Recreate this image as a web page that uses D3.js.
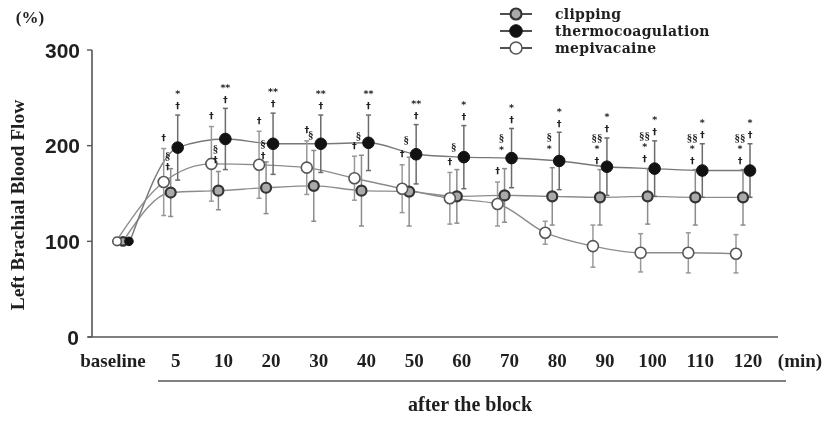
<!DOCTYPE html>
<html>
<head>
<meta charset="utf-8">
<script src="https://cdn.jsdelivr.net/npm/d3@7/dist/d3.min.js"></script>
<style>
html,body{margin:0;padding:0;background:#fff;}
svg{display:block;}
.gray{opacity:0.995;will-change:transform;}
</style>
</head>
<body>
<svg id="chart" width="832" height="426"></svg>
<script>
// ---------- data ----------
const categories = ["baseline","5","10","20","30","40","50","60","70","80","90","100","110","120"];
const yTicks = [0,100,200,300];

const clipping   = [100,151,153,156,158,153,152,147,148,147,146,147,146,146];
const clippingSD = [0,25,20,27,37,37,36,28,28,30,29,29,29,29];
const thermo     = [100,198,207,202,202,203,191,188,187,184,178,176,174,174];
const thermoSD   = [0,34,32,32,30,29,31,33,31,30,30,29,28,28];
const mepi       = [100,162,181,180,177,166,155,145,139,109,95,88,88,87];
const mepiSD     = [0,35,39,35,28,23,25,27,23,12,22,20,21,20];

// significance marks (listed bottom to top)
const thermoMarks = [[],["†","*"],["†","**"],["†","**"],["†","**"],["†","**"],["†","**"],["†","*"],["†","*"],["†","*"],["†","*"],["†","*"],["†","*"],["†","*"]];
const mepiMarks   = [[],["†"],["†"],["†"],["†"],["†"],["†"],["†"],["†"],[],[],[],[],[]];
const clipMarks   = [[],["†","§"],["†","§"],["†","§"],["§"],["§"],["§"],["§"],["*","§"],["*","§"],["†","*","§§"],["†","*","§§"],["†","*","§§"],["†","*","§§"]];
const clipMarkLevel = [0,178,185,190,212,211,207,200,196,197,184,186,184,184];

const seriesNames = ["clipping","thermocoagulation","mepivacaine"];

// ---------- drawing ----------
const svg = d3.select("#chart");
const root = svg.append("g").attr("class","gray");
const x = d3.scalePoint().domain(categories).range([123, 743]);
const y = d3.scaleLinear().domain([0,300]).range([337, 50]);
const serifB = "'Liberation Serif', 'DejaVu Serif', serif";
const ink = "#1e1e1e";

const series = [
  {name:seriesNames[0], vals:clipping, sd:clippingSD, dx:0,  fill:"#aaa", stroke:"#333", sw:2.2, r:5, line:"#8c8c8c", bar:"#8c8c8c"},
  {name:seriesNames[1], vals:thermo,   sd:thermoSD,   dx:7,  fill:"#111", stroke:"#111", sw:1,   r:5.8, line:"#777", bar:"#6a6a6a"},
  {name:seriesNames[2], vals:mepi,     sd:mepiSD,     dx:-7, fill:"#fff", stroke:"#555", sw:1.6, r:5.5, line:"#8c8c8c", bar:"#999"}
];

// axes
root.append("line").attr("x1",92).attr("x2",92).attr("y1",y(300)).attr("y2",y(0))
  .attr("stroke","#555").attr("stroke-width",1.6);
root.append("line").attr("x1",88).attr("x2",778).attr("y1",y(0)).attr("y2",y(0))
  .attr("stroke","#555").attr("stroke-width",1.6);
yTicks.forEach(t=>{
  root.append("line").attr("x1",87).attr("x2",92).attr("y1",y(t)).attr("y2",y(t))
    .attr("stroke","#555").attr("stroke-width",1.4);
  root.append("text").attr("x",t===0?79:80).attr("y",y(t)).attr("dy","0.36em")
    .attr("text-anchor","end").attr("font-family","'Liberation Sans', Arial, sans-serif")
    .attr("font-weight","bold").attr("font-size",21).attr("fill",ink).text(t);
});

// x tick labels
categories.forEach((c,i)=>{
  root.append("text").attr("x", x(c) + (i===0 ? -10 : 5)).attr("y",367)
    .attr("text-anchor","middle").attr("font-family",serifB)
    .attr("font-weight","bold").attr("font-size",19).attr("fill",ink).text(c);
});
root.append("text").attr("x",800).attr("y",367).attr("text-anchor","middle")
  .attr("font-family",serifB).attr("font-weight","bold").attr("font-size",19).attr("fill",ink).text("(min)");

root.append("line").attr("x1",158).attr("x2",786).attr("y1",381).attr("y2",381)
  .attr("stroke","#555").attr("stroke-width",1.6);
root.append("text").attr("x",470).attr("y",411).attr("text-anchor","middle")
  .attr("font-family",serifB).attr("font-weight","bold").attr("font-size",20).attr("fill",ink).text("after the block");

// y label
root.append("text").attr("transform","translate(24,205) rotate(-90)").attr("text-anchor","middle")
  .attr("font-family",serifB).attr("font-weight","bold").attr("font-size",19.5).attr("fill",ink)
  .text("Left Brachial Blood Flow");
root.append("text").attr("x",30).attr("y",23).attr("text-anchor","middle")
  .attr("font-family",serifB).attr("font-weight","bold").attr("font-size",17).attr("fill",ink).text("(%)");

// lines
series.forEach(s=>{
  const ln = d3.line().x((d,i)=>x(categories[i])+s.dx).y(d=>y(d)).curve(d3.curveMonotoneX);
  root.append("path").attr("d",ln(s.vals)).attr("fill","none").attr("stroke",s.line).attr("stroke-width",1.4);
});

// error bars
series.forEach(s=>{
  const g = root.append("g");
  s.vals.forEach((v,i)=>{
    if(!s.sd[i]) return;
    const cx = x(categories[i])+s.dx;
    g.append("line").attr("x1",cx).attr("x2",cx).attr("y1",y(v+s.sd[i])).attr("y2",y(v-s.sd[i]))
      .attr("stroke",s.bar).attr("stroke-width",1.5);
    [v+s.sd[i], v-s.sd[i]].forEach(e=>{
      g.append("line").attr("x1",cx-2.5).attr("x2",cx+2.5).attr("y1",y(e)).attr("y2",y(e))
        .attr("stroke",s.bar).attr("stroke-width",1.5);
    });
  });
});

// markers
series.forEach(s=>{
  root.append("g").selectAll("circle").data(s.vals).join("circle")
    .attr("cx",(d,i)=>x(categories[i])+s.dx + (i===0 ? s.dx*-0.15 : 0))
    .attr("cy",d=>y(d)).attr("r",(d,i)=>i===0?4.3:s.r)
    .attr("fill",s.fill).attr("stroke",s.stroke).attr("stroke-width",s.sw);
});

// significance marks
const markFont = "'DejaVu Sans', 'Liberation Sans', sans-serif";
function drawStack(marks, cx, baseY, step){
  marks.forEach((m,k)=>{
    const sec = m.startsWith("§");
    root.append("text").attr("x",cx).attr("y",baseY - k*step).attr("dy","0.35em")
      .attr("text-anchor","middle").attr("font-family", sec ? serifB : markFont)
      .attr("font-weight","bold")
      .attr("font-size", sec ? 11 : 9.5).attr("fill",ink).text(m);
  });
}
categories.forEach((c,i)=>{
  const cx = x(c);
  if(thermoMarks[i].length) drawStack(thermoMarks[i], cx+7, y(thermo[i]+thermoSD[i]) - 9, 12);
  if(mepiMarks[i].length) drawStack(mepiMarks[i], cx-7, y(mepi[i]+mepiSD[i]) - 11, 12);
  if(clipMarks[i].length) drawStack(clipMarks[i], cx-3, y(clipMarkLevel[i]), 12);
});

// legend
const legend = root.append("g");
series.forEach((s,k)=>{
  const ly = 14 + k*17;
  legend.append("line").attr("x1",500).attr("x2",532).attr("y1",ly).attr("y2",ly)
    .attr("stroke","#222").attr("stroke-width",1.6);
  legend.append("circle").attr("cx",516).attr("cy",ly).attr("r",s.r+0.5)
    .attr("fill",s.fill).attr("stroke",s.stroke).attr("stroke-width",s.sw);
  legend.append("text").attr("x",555).attr("y",ly).attr("dy","0.34em")
    .attr("font-family","'DejaVu Serif', 'Liberation Serif', serif").attr("font-weight","bold")
    .attr("font-size",14).attr("letter-spacing",0.3).attr("fill",ink)
    .text(s.name);
});
</script>
</body>
</html>
